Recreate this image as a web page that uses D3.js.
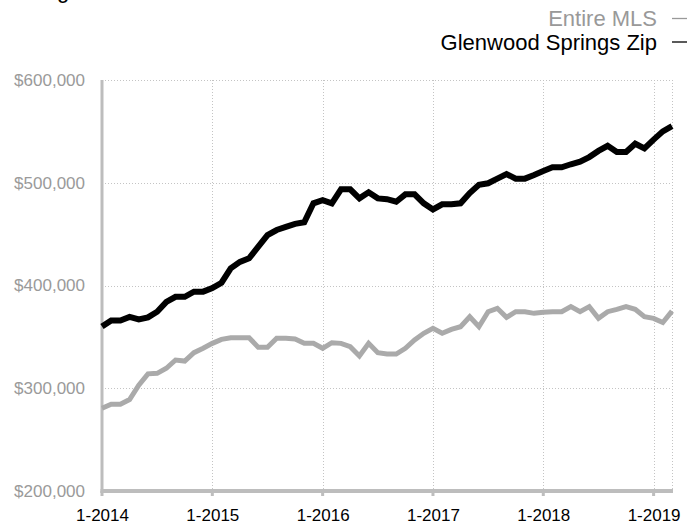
<!DOCTYPE html>
<html>
<head>
<meta charset="utf-8">
<script src="https://cdn.jsdelivr.net/npm/d3@7"></script>
<style>
  html, body { margin: 0; padding: 0; background: #fff; overflow: hidden; }
  svg { display: block; font-family: "Liberation Sans", Arial, Helvetica, sans-serif; }
</style>
</head>
<body>
<svg id="chart" width="687" height="525"></svg>
<script>
// ---- data ----
const tickLabels = ["1-2014", "1-2015", "1-2016", "1-2017", "1-2018", "1-2019"];
const tickIndex = [0, 12, 24, 36, 48, 60];
const yTicks = [200000, 300000, 400000, 500000, 600000];

// monthly values Jan 2014 .. Mar 2019
const glenwood = [
  360000, 366000, 366000, 369500, 367000, 369000, 374500, 384000, 389000, 389000,
  394000, 394000, 397500, 402700, 416700, 423000, 426500, 437800, 449000, 454000,
  457000, 460000, 461500, 480000, 483000, 480000, 493600, 493600, 484800, 490700,
  484800, 484000, 481500, 488700, 488700, 480000, 474000, 479000, 479000, 480000,
  490000, 498000, 499500, 504000, 508500, 504000, 504000, 507500, 511400, 515000,
  515000, 518000, 520500, 525000, 531000, 536000, 530000, 530000, 538000, 533500,
  542000, 550000, 555000
];
const entireMLS = [
  280500, 284400, 284400, 289000, 303000, 314000, 314500, 319400, 327500, 326500,
  334600, 338900, 343700, 347600, 349200, 349200, 349200, 339800, 339800, 348600,
  348600, 348000, 343700, 343700, 338900, 344300, 343700, 340400, 331400, 343700,
  334600, 333300, 333300, 338900, 347000, 353500, 358300, 353500, 357300, 359900,
  369600, 359900, 374500, 377800, 369000, 374500, 374500, 372900, 373900, 374500,
  374500, 379400, 374500, 379400, 368000, 374500, 376800, 379400, 376800, 369600,
  368000, 364000, 375000
];
const seriesNames = ["Entire MLS", "Glenwood Springs Zip"];

// ---- layout ----
const svg = d3.select("#chart");
const mLeft = 102, mRight = 672, mTop = 80, mBottom = 491;

const x = d3.scaleLinear().domain([0, glenwood.length - 1]).range([mLeft, mRight]);
const y = d3.scaleLinear().domain([200000, 600000]).range([mBottom, mTop]);

// partially visible title (cut off at the top, as in the reference)
svg.append("text").attr("x", 2).attr("y", -2).attr("font-size", 22).attr("fill", "#000").text("Pricing");
svg.append("text").attr("x", 128).attr("y", -2).attr("font-size", 22).attr("fill", "#999").text("Median Sale Price");

// gridlines
const grid = svg.append("g").attr("stroke", "#c4c4c4").attr("stroke-width", 1).attr("stroke-dasharray", "1,2").attr("fill", "none");
yTicks.filter(v => v > 200000).forEach(v => {
  grid.append("line").attr("x1", mLeft).attr("x2", mRight).attr("y1", Math.round(y(v)) + 0.5).attr("y2", Math.round(y(v)) + 0.5);
});
tickIndex.filter(i => i > 0).forEach(i => {
  grid.append("line").attr("x1", Math.round(x(i)) + 0.5).attr("x2", Math.round(x(i)) + 0.5).attr("y1", mTop).attr("y2", mBottom);
});
grid.append("line").attr("x1", mRight + 0.5).attr("x2", mRight + 0.5).attr("y1", mTop).attr("y2", mBottom);

// y axis labels
const yAxis = d3.axisLeft(y).tickValues(yTicks).tickSize(0).tickPadding(17)
  .tickFormat(d => "$" + d3.format(",")(d));
const gy = svg.append("g").attr("transform", `translate(${mLeft},0)`).call(yAxis);
gy.select(".domain").remove();
gy.selectAll("text").attr("font-size", 17).attr("fill", "#9a9a9a").attr("font-family", "Liberation Sans, Arial, sans-serif");

// x axis labels
const xAxis = d3.axisBottom(x).tickValues(tickIndex).tickSize(0).tickPadding(18)
  .tickFormat((d, i) => tickLabels[i]);
const gx = svg.append("g").attr("transform", `translate(0,${mBottom})`).call(xAxis);
gx.select(".domain").remove();
gx.selectAll("text").attr("font-size", 17).attr("fill", "#000").attr("font-family", "Liberation Sans, Arial, sans-serif");

// axis lines
svg.append("line").attr("x1", mLeft).attr("x2", mLeft).attr("y1", mTop).attr("y2", mBottom + 2)
  .attr("stroke", "#bdbdbd").attr("stroke-width", 3);
svg.append("line").attr("x1", mLeft - 1.5).attr("x2", mRight + 1).attr("y1", mBottom).attr("y2", mBottom)
  .attr("stroke", "#bdbdbd").attr("stroke-width", 4);
tickIndex.forEach(i => {
  svg.append("line").attr("x1", x(i)).attr("x2", x(i)).attr("y1", mBottom).attr("y2", mBottom + 5)
    .attr("stroke", "#bdbdbd").attr("stroke-width", 3);
});

// lines
const line = d3.line().x((d, i) => x(i)).y(d => y(d));
svg.append("path").datum(entireMLS).attr("d", line).attr("fill", "none")
  .attr("stroke", "#aaaaaa").attr("stroke-width", 5).attr("stroke-linejoin", "miter");
svg.append("path").datum(glenwood).attr("d", line).attr("fill", "none")
  .attr("stroke", "#000").attr("stroke-width", 6).attr("stroke-linejoin", "miter");

// legend
const legend = [
  { name: seriesNames[0], color: "#999999", textColor: "#999999", base: 26, dashY: 18.5 },
  { name: seriesNames[1], color: "#000000", textColor: "#000", base: 50, dashY: 42 }
];
legend.forEach(l => {
  svg.append("text").attr("x", 657).attr("y", l.base).attr("text-anchor", "end")
    .attr("font-size", 22).attr("fill", l.textColor).text(l.name);
  svg.append("line").attr("x1", 672).attr("x2", 687).attr("y1", l.dashY).attr("y2", l.dashY)
    .attr("stroke", l.color).attr("stroke-width", 1.3);
});
</script>
</body>
</html>
